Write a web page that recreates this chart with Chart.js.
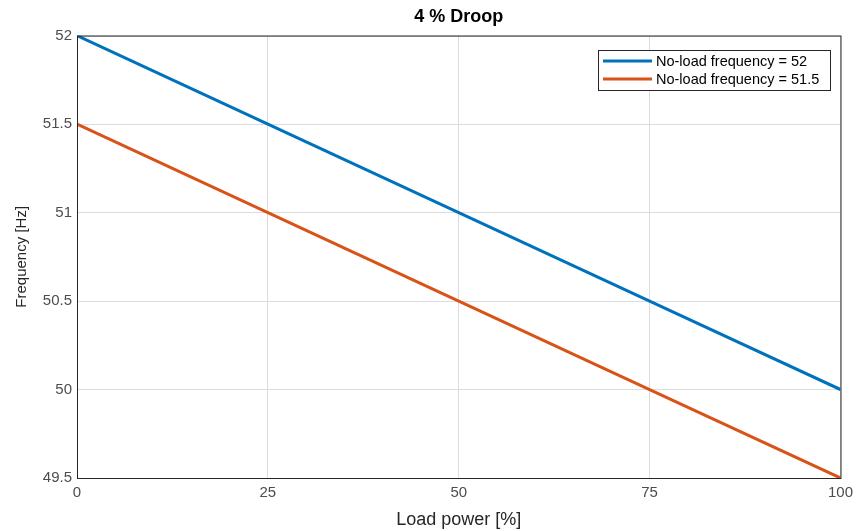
<!DOCTYPE html>
<html>
<head>
    <title>4 % Droop</title>
    <script src="https://cdn.jsdelivr.net/npm/chart.js"></script>
    <style>
        body { margin: 0; background: #fff; }
        #wrap { width: 859px; height: 531px; }
    </style>
</head>
<body>
    <div id="wrap"><canvas id="grafico" width="859" height="531"></canvas></div>

    <script>
        // load power in percent
        const cargas = [0, 25, 50, 75, 100];
        // frequency for each no-load setting
        const freq52 = [52, 51.5, 51, 50.5, 50];
        const freq515 = [51.5, 51, 50.5, 50, 49.5];
        const nomes = ['No-load frequency = 52', 'No-load frequency = 51.5'];
        const cores = ['#0072BD', '#D95319'];

        const fonte = '"Liberation Sans", Arial, sans-serif';
        const pontos = (ys) => cargas.map((x, i) => ({ x: x, y: ys[i] }));

        // box around the plot area plus legend inside the upper right corner
        const caixaPlugin = {
            id: 'caixa',
            afterDraw(chart) {
                const { ctx, chartArea: a } = chart;
                ctx.save();
                ctx.strokeStyle = '#262626';
                ctx.lineWidth = 1;
                ctx.strokeRect(a.left + 0.5, a.top + 0.5, a.right - a.left, a.bottom - a.top);

                // legend
                const x0 = 598, y0 = 50, w = 232, h = 40;
                ctx.fillStyle = '#fff';
                ctx.fillRect(x0, y0, w, h);
                ctx.strokeStyle = '#262626';
                ctx.strokeRect(x0 + 0.5, y0 + 0.5, w, h);
                ctx.font = '14.5px ' + fonte;
                ctx.textBaseline = 'middle';
                chart.data.datasets.forEach((ds, i) => {
                    const y = y0 + 11 + i * 18;
                    ctx.strokeStyle = ds.borderColor;
                    ctx.lineWidth = 3;
                    ctx.beginPath();
                    ctx.moveTo(x0 + 5, y);
                    ctx.lineTo(x0 + 54, y);
                    ctx.stroke();
                    ctx.fillStyle = '#000';
                    ctx.fillText(ds.label, x0 + 58, y + 1);
                });
                ctx.restore();
            }
        };

        const ctx = document.getElementById('grafico').getContext('2d');
        new Chart(ctx, {
            type: 'line',
            data: {
                datasets: [
                    { label: nomes[0], data: pontos(freq52), borderColor: cores[0], borderWidth: 3, pointRadius: 0, fill: false },
                    { label: nomes[1], data: pontos(freq515), borderColor: cores[1], borderWidth: 3, pointRadius: 0, fill: false }
                ]
            },
            options: {
                responsive: false,
                animation: false,
                layout: { padding: { right: 14, left: 0 } },
                plugins: {
                    legend: { display: false },
                    tooltip: { enabled: false },
                    title: {
                        display: true,
                        fullSize: false,
                        text: '4 % Droop',
                        color: '#000',
                        font: { family: fonte, size: 18, weight: 'bold' },
                        padding: { top: 6, bottom: 8 }
                    }
                },
                scales: {
                    x: {
                        type: 'linear',
                        min: 0, max: 100,
                        ticks: {
                            stepSize: 25,
                            color: '#4d4d4d',
                            padding: 6,
                            font: { family: fonte, size: 15 },
                            callback: (v) => String(v)
                        },
                        grid: { color: '#dcdcdc', drawTicks: false },
                        border: { display: false },
                        title: {
                            display: true,
                            text: 'Load power [%]',
                            color: '#262626',
                            font: { family: fonte, size: 18 },
                            padding: { top: 4, bottom: 0 }
                        },
                        afterFit(s) { s.height = 53; }
                    },
                    y: {
                        min: 49.5, max: 52,
                        ticks: {
                            stepSize: 0.5,
                            color: '#4d4d4d',
                            padding: 5,
                            font: { family: fonte, size: 15 },
                            callback: (v) => String(v)
                        },
                        grid: { color: '#dcdcdc', drawTicks: false },
                        border: { display: false },
                        title: {
                            display: true,
                            text: 'Frequency [Hz]',
                            color: '#262626',
                            font: { family: fonte, size: 15 },
                            padding: { top: 13, bottom: 0 }
                        },
                        afterFit(s) { s.width = 77; }
                    }
                }
            },
            plugins: [caixaPlugin]
        });
    </script>
</body>
</html>
